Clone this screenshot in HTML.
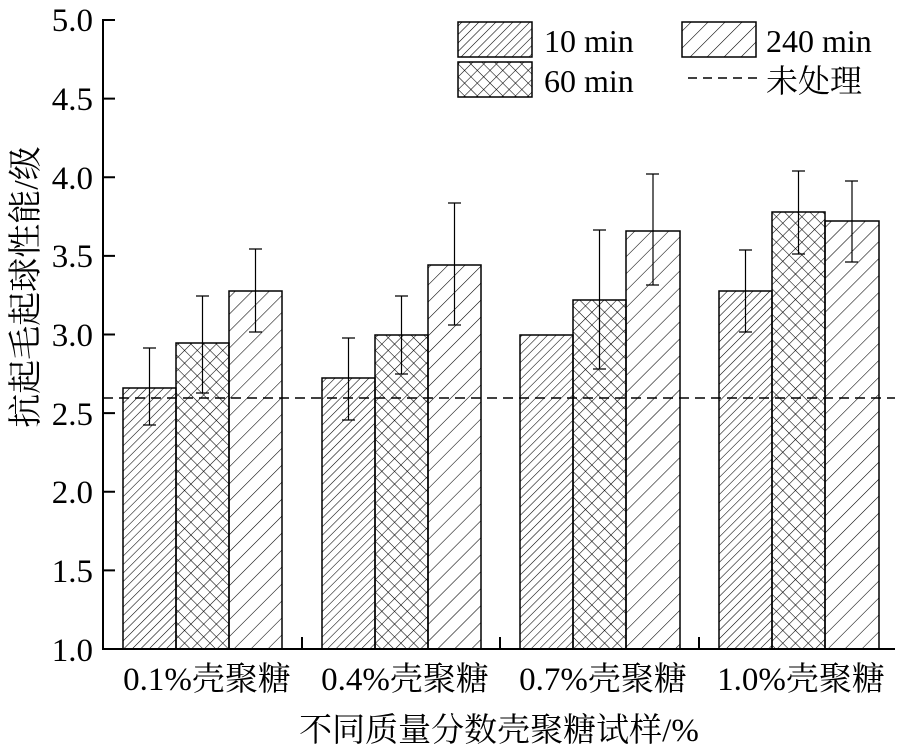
<!DOCTYPE html><html><head><meta charset="utf-8"><style>body{margin:0;background:#fff}svg{display:block}text{font-family:"Liberation Serif","Noto Serif CJK SC",serif;fill:#000}</style></head><body>
<svg width="900" height="754" viewBox="0 0 900 754" xmlns="http://www.w3.org/2000/svg">
<defs>
<pattern id="p10" width="6" height="6" patternUnits="userSpaceOnUse" patternTransform="rotate(45)"><line x1="0" y1="0" x2="0" y2="6" stroke="#000" stroke-width="1.1"/></pattern>
<pattern id="p240" width="12" height="12" patternUnits="userSpaceOnUse" patternTransform="rotate(45)"><line x1="0" y1="0" x2="0" y2="12" stroke="#000" stroke-width="1.1"/></pattern>
<pattern id="p60" width="9" height="9" patternUnits="userSpaceOnUse" patternTransform="rotate(45)"><line x1="0" y1="0" x2="0" y2="9" stroke="#000" stroke-width="1.1"/><line x1="0" y1="0" x2="9" y2="0" stroke="#000" stroke-width="1.1"/></pattern>
</defs>
<g stroke="#000" stroke-width="1.5">
<rect x="123" y="388" width="53" height="261" fill="url(#p10)"/>
<rect x="176" y="343" width="53" height="306" fill="url(#p60)"/>
<rect x="229" y="291" width="53" height="358" fill="url(#p240)"/>
<rect x="322" y="378" width="53" height="271" fill="url(#p10)"/>
<rect x="375" y="335" width="53" height="314" fill="url(#p60)"/>
<rect x="428" y="265" width="53" height="384" fill="url(#p240)"/>
<rect x="520" y="335" width="53" height="314" fill="url(#p10)"/>
<rect x="573" y="300" width="53" height="349" fill="url(#p60)"/>
<rect x="626" y="231" width="54" height="418" fill="url(#p240)"/>
<rect x="719" y="291" width="53" height="358" fill="url(#p10)"/>
<rect x="772" y="212" width="53" height="437" fill="url(#p60)"/>
<rect x="825" y="221" width="54" height="428" fill="url(#p240)"/>
</g>
<g stroke="#000" stroke-width="1.2" fill="none">
<path d="M149.5 425V348M143 425h13M143 348h13"/>
<path d="M202.5 393V296M196 393h13M196 296h13"/>
<path d="M255.5 332V249M249 332h13M249 249h13"/>
<path d="M348.5 420V338M342 420h13M342 338h13"/>
<path d="M401.5 374V296M395 374h13M395 296h13"/>
<path d="M454.5 325V203M448 325h13M448 203h13"/>
<path d="M599.5 369V230M593 369h13M593 230h13"/>
<path d="M653 285V174M646 285h13M646 174h13"/>
<path d="M745.5 332V250M739 332h13M739 250h13"/>
<path d="M798.5 254V171M792 254h13M792 171h13"/>
<path d="M852 262V181M845 262h13M845 181h13"/>
</g>
<line x1="103" y1="398" x2="895" y2="398" stroke="#000" stroke-width="1.5" stroke-dasharray="10,6"/>
<g stroke="#000" stroke-width="2" fill="none">
<path d="M103 19V649H895"/>
<path d="M103 20h12M103 98.6h12M103 177.2h12M103 255.9h12M103 334.5h12M103 413.1h12M103 491.7h12M103 570.4h12"/>
<path d="M302 649v-12M500 649v-12M699 649v-12"/>
</g>
<g font-size="33" text-anchor="end">
<text x="93" y="31">5.0</text><text x="93" y="110">4.5</text><text x="93" y="189">4.0</text><text x="93" y="267">3.5</text><text x="93" y="346">3.0</text><text x="93" y="425">2.5</text><text x="93" y="503">2.0</text><text x="93" y="582">1.5</text><text x="93" y="661">1.0</text>
</g>
<g font-size="33" text-anchor="middle">
<text x="207" y="690">0.1%壳聚糖</text><text x="405" y="690">0.4%壳聚糖</text><text x="603" y="690">0.7%壳聚糖</text><text x="801" y="690">1.0%壳聚糖</text>
<text x="499" y="741">不同质量分数壳聚糖试样/%</text>
</g>
<text transform="translate(37,287) rotate(-90)" font-size="34" text-anchor="middle">抗起毛起球性能/级</text>
<g stroke="#000" stroke-width="1.5">
<rect x="458" y="22" width="74" height="35" fill="url(#p10)"/>
<rect x="458" y="62" width="74" height="35" fill="url(#p60)"/>
<rect x="682" y="22" width="74" height="35" fill="url(#p240)"/>
</g>
<line x1="688" y1="78" x2="762" y2="78" stroke="#000" stroke-width="1.5" stroke-dasharray="9,6"/>
<g font-size="32">
<text x="544" y="52">10 min</text><text x="544" y="92">60 min</text><text x="766" y="52">240 min</text><text x="766" y="92">未处理</text>
</g>
</svg></body></html>
